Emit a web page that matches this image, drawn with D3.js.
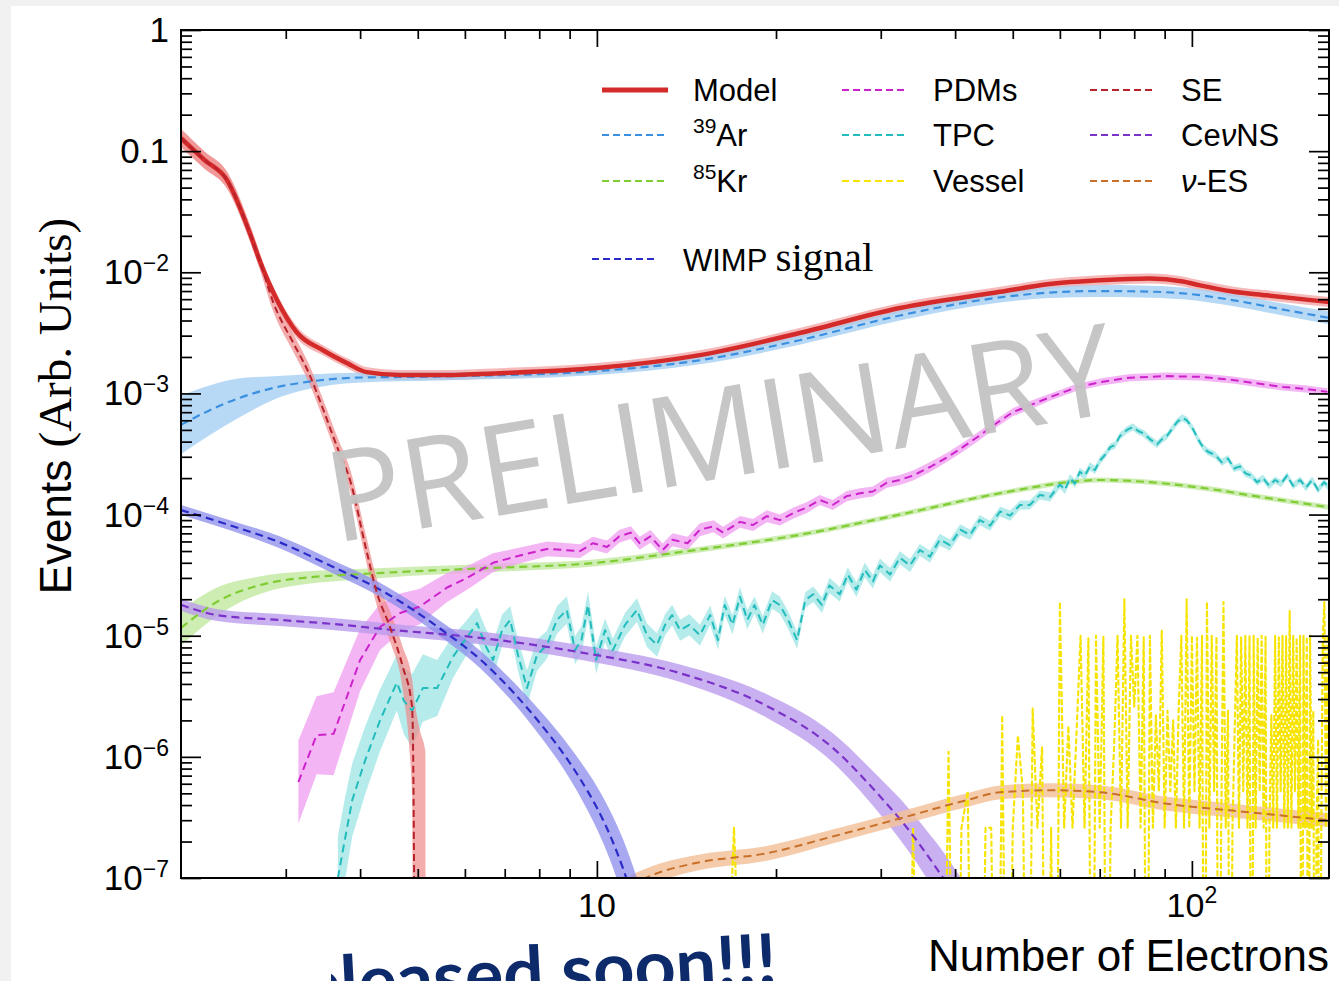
<!DOCTYPE html>
<html>
<head>
<meta charset="utf-8">
<title>Events vs Number of Electrons</title>
<script src="https://cdn.jsdelivr.net/npm/d3@7"></script>
<style>
  html, body { margin: 0; padding: 0; background: #f1f1f1; }
  svg { display: block; }
</style>
</head>
<body>
<svg id="chart" width="1339" height="981"></svg>
<script>
// ---------- axes ----------
const xDomain = [2, 170];
const yDomain = [1e-7, 1];
const xMajorTicks = [10, 100];
const xTickBase = ["10", "10"];
const xTickSup = ["", "2"];
const yMajorTicks = [1, 0.1, 1e-2, 1e-3, 1e-4, 1e-5, 1e-6, 1e-7];
const yTickBase = ["1", "0.1", "10", "10", "10", "10", "10", "10"];
const yTickSup = ["", "", "−2", "−3", "−4", "−5", "−6", "−7"];

// ---------- spectra: [electrons, events, band factor] ----------
const model = [
  [2.0,0.128,1.2],[2.19,0.0845,1.18],[2.39,0.0577,1.16],[2.61,0.0211,1.14],[2.71,0.0126,1.13],
  [2.90,5.9e-3,1.12],[3.13,3.2e-3,1.12],[3.47,2.26e-3,1.1],[3.81,1.77e-3,1.1],[4.1,1.5e-3,1.1],
  [4.67,1.42e-3,1.1],[5.45,1.42e-3,1.1],[6.87,1.47e-3,1.1],[10,1.62e-3,1.1],[14.9,2.07e-3,1.1],
  [21.9,3.15e-3,1.1],[32.3,5.07e-3,1.1],[47.6,6.9e-3,1.1],[57.7,8.0e-3,1.1],[70.1,8.6e-3,1.1],
  [85.0,8.9e-3,1.1],[96.6,8.4e-3,1.1],[103.2,7.8e-3,1.1],[117,6.95e-3,1.1],[133.7,6.45e-3,1.1],
  [170,5.68e-3,1.1]
];

const ar39 = [
  [2.0,5.5e-4,1.75],[2.24,7.3e-4,1.6],[2.51,9.2e-4,1.45],[2.86,1.11e-3,1.25],[3.28,1.25e-3,1.15],
  [3.96,1.35e-3,1.1],[5.45,1.38e-3,1.08],[10,1.53e-3,1.08],[14.9,1.88e-3,1.08],[21.9,2.75e-3,1.09],
  [32.3,4.4e-3,1.1],[47.6,6.2e-3,1.1],[57.7,6.8e-3,1.11],[70.1,7.0e-3,1.12],[81.8,6.95e-3,1.12],
  [96.6,6.7e-3,1.12],[117,5.9e-3,1.12],[140,5.0e-3,1.12],[170,4.2e-3,1.13]
];

const kr85 = [
  [2.0,1.16e-5,1.4],[2.34,2.0e-5,1.3],[2.63,2.5e-5,1.2],[2.95,2.85e-5,1.15],[4.36,3.3e-5,1.1],
  [6.42,3.6e-5,1.08],[10,4.0e-5,1.07],[13.8,4.9e-5,1.06],[21.9,6.8e-5,1.05],[32.3,1.0e-4,1.05],
  [47.6,1.5e-4,1.05],[64.8,1.89e-4,1.05],[70.1,1.93e-4,1.05],[85,1.85e-4,1.05],[103.2,1.67e-4,1.05],
  [130.2,1.4e-4,1.05],[170,1.15e-4,1.05]
];

const pdms = [
  [3.15,6.2e-7,2.2],[3.38,1.51e-6,2.1],[3.61,1.55e-6,2.2],[4.0,6.3e-6,1.8],[4.32,1.18e-5,1.55],
  [4.67,1.54e-5,1.45],[5.04,1.74e-5,1.4],[5.6,2.5e-5,1.32],[6.05,3.0e-5,1.25],[6.69,4.0e-5,1.2],
  [7.43,4.6e-5,1.16],[8.25,5.2e-5,1.15],[9.37,5.0e-5,1.14],[9.85,5.8e-5,1.13],[10.4,5.4e-5,1.13],
  [10.9,6.6e-5,1.13],[11.4,7.1e-5,1.13],[11.8,5.8e-5,1.13],[12.3,6.6e-5,1.13],[12.9,5.1e-5,1.13],
  [13.4,6.2e-5,1.13],[14.2,5.8e-5,1.13],[14.9,7.5e-5,1.13],[15.7,8.0e-5,1.12],[16.3,7.1e-5,1.12],
  [17.4,8.7e-5,1.12],[18.3,8.2e-5,1.12],[19.3,9.7e-5,1.12],[20.3,9.0e-5,1.11],[21.4,1.03e-4,1.11],
  [22.5,1.14e-4,1.11],[23.7,1.32e-4,1.1],[24.9,1.2e-4,1.1],[26.3,1.42e-4,1.1],[27.7,1.5e-4,1.1],
  [29.1,1.55e-4,1.1],[30.7,1.83e-4,1.1],[32.3,1.93e-4,1.1],[34.0,2.1e-4,1.1],[36.3,2.47e-4,1.1],
  [38.8,2.97e-4,1.09],[41.2,3.6e-4,1.09],[44.0,4.5e-4,1.09],[47.0,5.7e-4,1.08],[50.0,7.0e-4,1.08],
  [53.5,8.0e-4,1.08],[57.7,9.3e-4,1.07],[63.6,1.11e-3,1.07],[70.1,1.24e-3,1.07],[78.7,1.35e-3,1.07],
  [90.8,1.39e-3,1.07],[103.2,1.37e-3,1.07],[117.2,1.29e-3,1.07],[130.2,1.2e-3,1.07],[142.3,1.13e-3,1.07],
  [155,1.09e-3,1.07],[169,1.03e-3,1.07]
];

const tpc = [
  [3.67,1e-7,2.2],[3.77,2.06e-7,2.2],[3.88,4.4e-7,2.0],[4.08,9.4e-7,1.9],[4.32,2.0e-6,1.8],
  [4.61,4.1e-6,1.7],[4.74,2.9e-6,1.9],[4.89,2.4e-6,2.0],[5.10,3.7e-6,1.9],[5.39,3.7e-6,1.7],
  [5.73,6.7e-6,1.5],[6.0,9.2e-6,1.4],[6.29,1.27e-5,1.35],[6.49,8.4e-6,1.4],[6.69,6.3e-6,1.4],
  [6.93,1.11e-5,1.35],[7.15,1.35e-5,1.3],[7.37,6.9e-6,1.35],[7.63,3.7e-6,1.4],[7.93,6.9e-6,1.35],
  [8.24,8.4e-6,1.3],[8.57,1.35e-5,1.3],[8.90,1.63e-5,1.3],[9.19,7.6e-6,1.3],[9.42,9.2e-6,1.3],
  [9.66,1.79e-5,1.3],[9.97,6.3e-6,1.3],[10.32,1.11e-5,1.25],[10.64,7.6e-6,1.25],[11.15,1.23e-5,1.25],
  [11.68,1.63e-5,1.25],[12.14,1.01e-5,1.25],[12.62,8.4e-6,1.25],[13.02,1.23e-5,1.22],[13.38,1.48e-5,1.22],
  [13.8,1.11e-5,1.22],[14.3,1.23e-5,1.22],[14.9,1.01e-5,1.22],[15.5,1.48e-5,1.2],[15.98,9.2e-6,1.2],
  [16.4,1.79e-5,1.2],[16.9,1.23e-5,1.2],[17.4,2.1e-5,1.2],[17.9,1.35e-5,1.2],[18.4,1.79e-5,1.18],
  [19.0,1.23e-5,1.18],[19.7,1.97e-5,1.18],[20.3,1.79e-5,1.18],[20.96,1.35e-5,1.18],[21.7,9.2e-6,1.18],
  [22.4,1.97e-5,1.16],[23.1,2.2e-5,1.16],[23.9,1.79e-5,1.16],[24.6,2.6e-5,1.16],[25.6,2.2e-5,1.15],
  [26.4,3.2e-5,1.15],[27.3,2.4e-5,1.15],[28.2,3.5e-5,1.15],[29.1,2.8e-5,1.14],[29.9,3.8e-5,1.14],
  [31.1,3.2e-5,1.14],[32.3,4.4e-5,1.13],[33.6,3.8e-5,1.13],[34.9,5.1e-5,1.12],[36.3,4.5e-5,1.12],
  [37.7,6.2e-5,1.12],[39.2,5.6e-5,1.11],[40.8,7.5e-5,1.11],[42.4,6.8e-5,1.1],[44.0,9.0e-5,1.1],
  [45.8,8.1e-5,1.1],[47.6,1.06e-4,1.1],[49.5,9.8e-5,1.1],[51.4,1.2e-4,1.09],[53.4,1.2e-4,1.09],
  [55.5,1.45e-4,1.09],[57.8,1.4e-4,1.09],[60.0,1.77e-4,1.08],[61.2,1.6e-4,1.08],[62.4,2.0e-4,1.08],
  [63.6,1.8e-4,1.08],[64.8,2.25e-4,1.08],[66.1,2.1e-4,1.08],[67.4,2.5e-4,1.08],[68.7,2.33e-4,1.08],
  [70.1,2.8e-4,1.08],[71.4,3.1e-4,1.07],[72.9,3.6e-4,1.07],[74.3,3.75e-4,1.07],[75.7,4.45e-4,1.07],
  [77.8,5.0e-4,1.07],[79.6,5.3e-4,1.07],[81.2,4.9e-4,1.07],[82.8,4.7e-4,1.07],[85.0,4.2e-4,1.07],
  [87.4,3.8e-4,1.07],[89.1,4.2e-4,1.07],[90.8,4.45e-4,1.07],[92.6,5.1e-4,1.07],[94.4,5.8e-4,1.07],
  [96.3,6.3e-4,1.07],[98.1,6.0e-4,1.07],[100.4,5.1e-4,1.07],[102.4,4.2e-4,1.07],[104.4,3.6e-4,1.07],
  [106.4,3.3e-4,1.07],[109.4,3.1e-4,1.07],[112.3,2.7e-4,1.07],[115.0,2.9e-4,1.07],[117.7,2.4e-4,1.07],
  [120.5,2.5e-4,1.07],[122.9,2.2e-4,1.07],[125.7,2.1e-4,1.07],[128.7,1.85e-4,1.07],[131.7,2.0e-4,1.07],
  [134.8,1.73e-4,1.07],[138.0,1.93e-4,1.07],[141.2,1.8e-4,1.07],[144.5,2.1e-4,1.07],[147.9,1.73e-4,1.07],
  [152.0,1.93e-4,1.07],[155.5,1.67e-4,1.07],[159.2,1.93e-4,1.07],[162.9,1.6e-4,1.07],[166.8,1.85e-4,1.07],
  [170,1.67e-4,1.07]
];

// single-electron component: [electrons, events, band low, band high]
const se = [
  [2.0,0.128,0.11,0.15],[2.19,0.0845,0.072,0.099],[2.39,0.0577,0.049,0.068],[2.61,0.0211,0.018,0.025],
  [2.71,0.0126,0.0107,0.0148],[2.86,5.6e-3,4.7e-3,6.6e-3],[3.09,2.6e-3,2.2e-3,3.1e-3],
  [3.28,1.47e-3,1.23e-3,1.75e-3],[3.47,7.3e-4,6.1e-4,8.8e-4],[3.66,3.6e-4,3.0e-4,4.4e-4],
  [3.85,1.9e-4,1.55e-4,2.35e-4],[4.09,5.3e-5,4.2e-5,6.8e-5],[4.27,2.25e-5,1.75e-5,2.9e-5],
  [4.49,1.18e-5,9e-6,1.6e-5],[4.72,5.5e-6,3.5e-6,8e-6],[4.89,2.6e-6,5e-7,4.4e-6],
  [4.91,1.2e-6,1e-8,3.8e-6],[4.92,4.4e-7,1e-9,3.4e-6],[4.93,1e-7,1e-9,3.0e-6],
  [4.935,5e-8,1e-9,2.9e-6],[5.05,null,1e-9,1.6e-6],[5.15,null,1e-9,1.1e-6],[5.16,null,1e-9,1e-9]
];

const cevns = [
  [2.0,1.8e-5,1.12],[2.3,1.48e-5,1.12],[2.93,1.35e-5,1.12],[3.6,1.25e-5,1.12],[4.5,1.12e-5,1.12],
  [6.36,9.6e-6,1.13],[9.37,7.3e-6,1.15],[13.8,4.9e-6,1.18],[19.3,2.63e-6,1.25],[24.9,1.19e-6,1.32],
  [29.6,5.0e-7,1.4],[33.2,2.6e-7,1.5],[36.7,1.33e-7,1.6],[38.2,1.0e-7,1.65],[40.8,6e-8,1.7]
];

const nues = [
  [11.4,8.8e-8,1.2],[12.8,1.12e-7,1.18],[14.9,1.35e-7,1.16],[19.3,1.6e-7,1.15],[24.9,2.2e-7,1.14],
  [32.3,3.1e-7,1.14],[41.9,4.4e-7,1.14],[47.6,5.1e-7,1.14],[57.7,5.3e-7,1.14],[70.1,5.1e-7,1.14],
  [90.8,4.1e-7,1.14],[117,3.6e-7,1.14],[170,3.0e-7,1.14]
];

const wimp = [
  [2.0,1.09e-4,1.1],[2.41,8.2e-5,1.1],[2.93,5.9e-5,1.12],[3.56,3.8e-5,1.13],[4.32,2.4e-5,1.14],
  [5.6,1.04e-5,1.16],[6.36,6.4e-6,1.18],[7.23,3.43e-6,1.22],[8.02,1.9e-6,1.27],[8.77,1.075e-6,1.33],
  [9.37,6.6e-7,1.4],[10,3.8e-7,1.5],[10.52,2.26e-7,1.6],[11.07,1.19e-7,1.75],[11.8,4.5e-8,1.9]
];

// vessel histogram, one bin per electron starting at bin 16 (0 = empty bin)
const vesselFirstBin = 16;
const vessel = [
  0, 2.6e-7, 0,0,0,0,0,0,0,0,0,0,0,0,0,0,0,0,
  2.6e-7, 0,0,0,0, 1.1e-6, 0, 2.6e-7, 5.2e-7, 0,0, 2.6e-7, 2.6e-7, 0, 2.2e-6, 0,
  2.6e-7, 1.5e-6, 5.2e-7, 0, 2.5e-6, 2.6e-7, 1.2e-6, 0, 2.6e-7, 0,
  1.9e-5, 2.6e-7, 1.8e-6, 2.6e-7, 1.6e-6, 1.0e-5, 2.6e-7, 9.5e-6, 0, 1.0e-5,
  2.6e-7, 9.8e-6, 0, 2.6e-7, 1.2e-6, 1.0e-5, 2.6e-7, 2.0e-5, 2.6e-7, 1.0e-5,
  2.6e-6, 1.0e-5, 2.6e-7, 9.7e-6, 0, 1.0e-5, 2.6e-7, 2.2e-6, 5.2e-7, 1.1e-5,
  2.6e-7, 2.4e-6, 5.2e-7, 2.0e-6, 2.6e-7, 2.4e-6, 1.0e-5, 2.6e-7, 2.0e-5, 2.6e-7,
  1.0e-5, 5.2e-7, 9.6e-6, 2.6e-7, 1.0e-5, 0, 1.9e-5, 2.6e-7, 1.0e-5, 5.2e-7,
  9.8e-6, 0, 2.6e-7, 1.9e-5, 2.6e-7, 2.4e-6, 0, 2.6e-7, 1.6e-6, 1.0e-5,
  2.6e-7, 9.7e-6, 5.2e-7, 1.0e-5, 2.6e-7, 9.9e-6, 0, 1.0e-5, 2.6e-7, 9.6e-6,
  5.2e-7, 1.0e-5, 2.6e-7, 9.8e-6, 0, 2.6e-7, 2.2e-6, 2.6e-7, 1.0e-5, 2.6e-7,
  9.7e-6, 5.2e-7, 1.0e-5, 2.6e-7, 9.9e-6, 2.6e-7, 1.6e-5, 2.6e-7, 1.0e-5, 5.2e-7,
  9.6e-6, 2.6e-7, 1.0e-5, 0, 1.0e-5, 2.6e-7, 9.8e-6, 0, 1.0e-5, 2.6e-7,
  2.4e-6, 0, 2.6e-7, 1.4e-6, 0, 2.6e-7, 1.0e-5, 1.9e-5, 2.6e-7, 1.0e-5, 2.6e-7
];

// ---------- styling ----------
const SANS = "'Liberation Sans', Arial, Helvetica, sans-serif";
const SERIF = "'Liberation Serif', 'Times New Roman', serif";
const DASH = "8,5";
const styles = {
  model:  { line: "#d42a2a", band: "#f08a8a", op: 0.6,  width: 4.5, dash: null },
  ar39:   { line: "#3a8fe0", band: "#a6cff3", op: 0.8,  width: 2.2, dash: DASH },
  kr85:   { line: "#7fcc33", band: "#c2e8a0", op: 0.8,  width: 2.2, dash: DASH },
  pdms:   { line: "#cc22cc", band: "#ef9cef", op: 0.75, width: 2.0, dash: DASH },
  tpc:    { line: "#22bcbc", band: "#9ee4e4", op: 0.75, width: 2.0, dash: DASH },
  vessel: { line: "#f6e400", band: null,      op: 0,    width: 2.1, dash: "6,2" },
  se:     { line: "#b8232b", band: "#f08a8a", op: 0.7,  width: 2.0, dash: "7,4" },
  cevns:  { line: "#7a32c8", band: "#bc9cec", op: 0.8,  width: 2.2, dash: DASH },
  nues:   { line: "#c8702a", band: "#f2c29c", op: 0.85, width: 2.0, dash: DASH },
  wimp:   { line: "#2b2bc8", band: "#8c8cec", op: 0.75, width: 2.2, dash: DASH }
};

// ---------- chart ----------
const svg = d3.select("#chart");
const plot = { left: 181, right: 1329, top: 30, bottom: 878 };

svg.append("rect").attr("x", 11).attr("y", 6).attr("width", 1328).attr("height", 975).attr("fill", "#ffffff");

const x = d3.scaleLog().domain(xDomain).range([plot.left, plot.right]);
const y = d3.scaleLog().domain(yDomain).range([plot.bottom, plot.top]);
const FLOOR = 1e-10;
const yv = v => y(Math.max(v, FLOOR));

svg.append("clipPath").attr("id", "plotClip")
  .append("rect").attr("x", plot.left).attr("y", plot.top)
  .attr("width", plot.right - plot.left).attr("height", plot.bottom - plot.top);

const gBands = svg.append("g").attr("clip-path", "url(#plotClip)");
const gLines = svg.append("g").attr("clip-path", "url(#plotClip)");

function drawBand(data, st, curve) {
  const area = d3.area().curve(curve)
    .x(d => x(d[0])).y0(d => yv(d[1] / d[2])).y1(d => yv(d[1] * d[2]));
  gBands.append("path").attr("d", area(data)).attr("fill", st.band).attr("fill-opacity", st.op);
}
function drawLine(data, st, curve) {
  const line = d3.line().curve(curve).defined(d => d[1] != null)
    .x(d => x(d[0])).y(d => yv(d[1]));
  gLines.append("path").attr("d", line(data)).attr("fill", "none")
    .attr("stroke", st.line).attr("stroke-width", st.width)
    .attr("stroke-dasharray", st.dash).attr("stroke-linejoin", "round");
}

const smooth = d3.curveMonotoneX, jagged = d3.curveLinear;

// uncertainty bands
drawBand(model, styles.model, smooth);
drawBand(ar39, styles.ar39, smooth);
drawBand(kr85, styles.kr85, smooth);
drawBand(pdms, styles.pdms, jagged);
drawBand(tpc, styles.tpc, jagged);
gBands.append("path")
  .attr("d", d3.area().curve(smooth).x(d => x(d[0])).y0(d => yv(d[2])).y1(d => yv(d[3]))(se))
  .attr("fill", styles.se.band).attr("fill-opacity", styles.se.op);
drawBand(cevns, styles.cevns, smooth);
drawBand(nues, styles.nues, smooth);
drawBand(wimp, styles.wimp, smooth);

// central values
drawLine(ar39, styles.ar39, smooth);
drawLine(kr85, styles.kr85, smooth);
drawLine(pdms, styles.pdms, jagged);
drawLine(tpc, styles.tpc, jagged);
drawLine(vessel.map((v, i) => [vesselFirstBin + i, v]), styles.vessel, jagged);
drawLine(cevns, styles.cevns, smooth);
drawLine(nues, styles.nues, smooth);
drawLine(wimp, styles.wimp, smooth);
drawLine(model, styles.model, smooth);
drawLine(se, styles.se, smooth);

// watermark
svg.append("text")
  .attr("transform", "translate(335,543) rotate(-9.5)")
  .attr("font-family", "'Open Sans', sans-serif").attr("font-size", 126)
  .attr("fill", "#c3c3c3").attr("fill-opacity", 0.95)
  .text("PRELIMINARY");

// ---------- axes (ticks on all four sides, pointing inward) ----------
const isDecade = v => Math.abs(Math.log10(v) - Math.round(Math.log10(v))) < 1e-6;
const xMinor = x.ticks().filter(v => !isDecade(v) && v > xDomain[0] * 1.001 && v < xDomain[1]);
const yMinor = y.ticks().filter(v => !isDecade(v));

function addTicks(axis, tx, ty, values, size) {
  svg.append("g").attr("transform", `translate(${tx},${ty})`)
    .call(axis.tickValues(values).tickSize(size).tickFormat(() => ""))
    .call(g => g.select(".domain").remove())
    .call(g => g.selectAll(".tick line").attr("stroke", "#000").attr("stroke-width", 1.7));
}
addTicks(d3.axisBottom(x), 0, plot.bottom, xMajorTicks, -17);
addTicks(d3.axisBottom(x), 0, plot.bottom, xMinor, -9);
addTicks(d3.axisTop(x), 0, plot.top, xMajorTicks, -17);
addTicks(d3.axisTop(x), 0, plot.top, xMinor, -9);
addTicks(d3.axisLeft(y), plot.left, 0, yMajorTicks, -20);
addTicks(d3.axisLeft(y), plot.left, 0, yMinor, -11);
addTicks(d3.axisRight(y), plot.right, 0, yMajorTicks, -20);
addTicks(d3.axisRight(y), plot.right, 0, yMinor, -11);

svg.append("rect").attr("x", plot.left).attr("y", plot.top)
  .attr("width", plot.right - plot.left).attr("height", plot.bottom - plot.top)
  .attr("fill", "none").attr("stroke", "#000").attr("stroke-width", 2);

// tick labels
yMajorTicks.forEach((v, i) => {
  const t = svg.append("text").attr("x", plot.left - 12).attr("y", y(v) + 12)
    .attr("text-anchor", "end").attr("font-family", SANS).attr("fill", "#000");
  t.append("tspan").attr("font-size", 35).text(yTickBase[i]);
  if (yTickSup[i]) t.append("tspan").attr("font-size", 23).attr("dy", -13).text(yTickSup[i]);
});
xMajorTicks.forEach((v, i) => {
  const t = svg.append("text").attr("x", x(v)).attr("y", plot.bottom + 39)
    .attr("text-anchor", "middle").attr("font-family", SANS).attr("fill", "#000");
  t.append("tspan").attr("font-size", 34).text(xTickBase[i]);
  if (xTickSup[i]) t.append("tspan").attr("font-size", 23).attr("dy", -14).text(xTickSup[i]);
});

// axis titles
svg.append("text").attr("x", plot.right).attr("y", 971).attr("text-anchor", "end")
  .attr("font-family", SANS).attr("font-size", 44).text("Number of Electrons");
const yTitle = svg.append("text").attr("transform", "translate(71,406) rotate(-90)")
  .attr("text-anchor", "middle");
yTitle.append("tspan").attr("font-family", SANS).attr("font-size", 44).text("Events ");
yTitle.append("tspan").attr("font-family", SERIF).attr("font-size", 47).text("(Arb. Units)");

// ---------- legend ----------
const legendItems = [
  { key: "model",  col: 0, row: 0, parts: [["Model"]] },
  { key: "ar39",   col: 0, row: 1, parts: [["39", "sup"], ["Ar"]] },
  { key: "kr85",   col: 0, row: 2, parts: [["85", "sup"], ["Kr"]] },
  { key: "pdms",   col: 1, row: 0, parts: [["PDMs"]] },
  { key: "tpc",    col: 1, row: 1, parts: [["TPC"]] },
  { key: "vessel", col: 1, row: 2, parts: [["Vessel"]] },
  { key: "se",     col: 2, row: 0, parts: [["SE"]] },
  { key: "cevns",  col: 2, row: 1, parts: [["Ce"], ["ν", "it"], ["NS"]] },
  { key: "nues",   col: 2, row: 2, parts: [["ν", "it"], ["-ES"]] }
];
const colX = [602, 842, 1090];
const rowY = [90, 135, 181];
const gLeg = svg.append("g");

function legendLabel(tx, ty, parts) {
  const t = gLeg.append("text").attr("x", tx).attr("y", ty).attr("font-family", SANS).attr("font-size", 31);
  parts.forEach(([s, kind]) => {
    if (kind === "sup") t.append("tspan").attr("font-size", 21).attr("dy", -13).text(s);
    else if (kind === "it") t.append("tspan").attr("font-style", "italic").text(s);
    else {
      const sp = t.append("tspan").text(s);
      if (t.selectAll("tspan").size() > 1 && parts[0][1] === "sup") sp.attr("dy", 13);
    }
  });
  return t;
}

legendItems.forEach(it => {
  const st = styles[it.key];
  const lx = colX[it.col], ly = rowY[it.row];
  gLeg.append("line").attr("x1", lx).attr("x2", lx + 66).attr("y1", ly).attr("y2", ly)
    .attr("stroke", st.line).attr("stroke-width", it.key === "model" ? 5 : 2.2)
    .attr("stroke-dasharray", it.key === "model" ? null : "7,4");
  legendLabel(lx + 91, ly + 11, it.parts);
});

gLeg.append("line").attr("x1", 592).attr("x2", 658).attr("y1", 259).attr("y2", 259)
  .attr("stroke", styles.wimp.line).attr("stroke-width", 2.2).attr("stroke-dasharray", "7,4");
const wl = gLeg.append("text").attr("x", 683).attr("y", 271);
wl.append("tspan").attr("font-family", SANS).attr("font-size", 31).text("WIMP ");
wl.append("tspan").attr("font-family", SERIF).attr("font-size", 41).text("signal");

// ---------- announcement along the bottom edge ----------
svg.append("clipPath").attr("id", "noteClip")
  .append("rect").attr("x", 331).attr("y", 890).attr("width", 1008).attr("height", 91);
svg.append("g").attr("clip-path", "url(#noteClip)")
  .append("text").attr("transform", "translate(778,985) rotate(-3)")
  .attr("text-anchor", "end").attr("font-family", "Lato, 'Open Sans', sans-serif")
  .attr("font-weight", 700).attr("font-size", 72).attr("fill", "#0d2a6b")
  .text("released soon!!!");
</script>
</body>
</html>
